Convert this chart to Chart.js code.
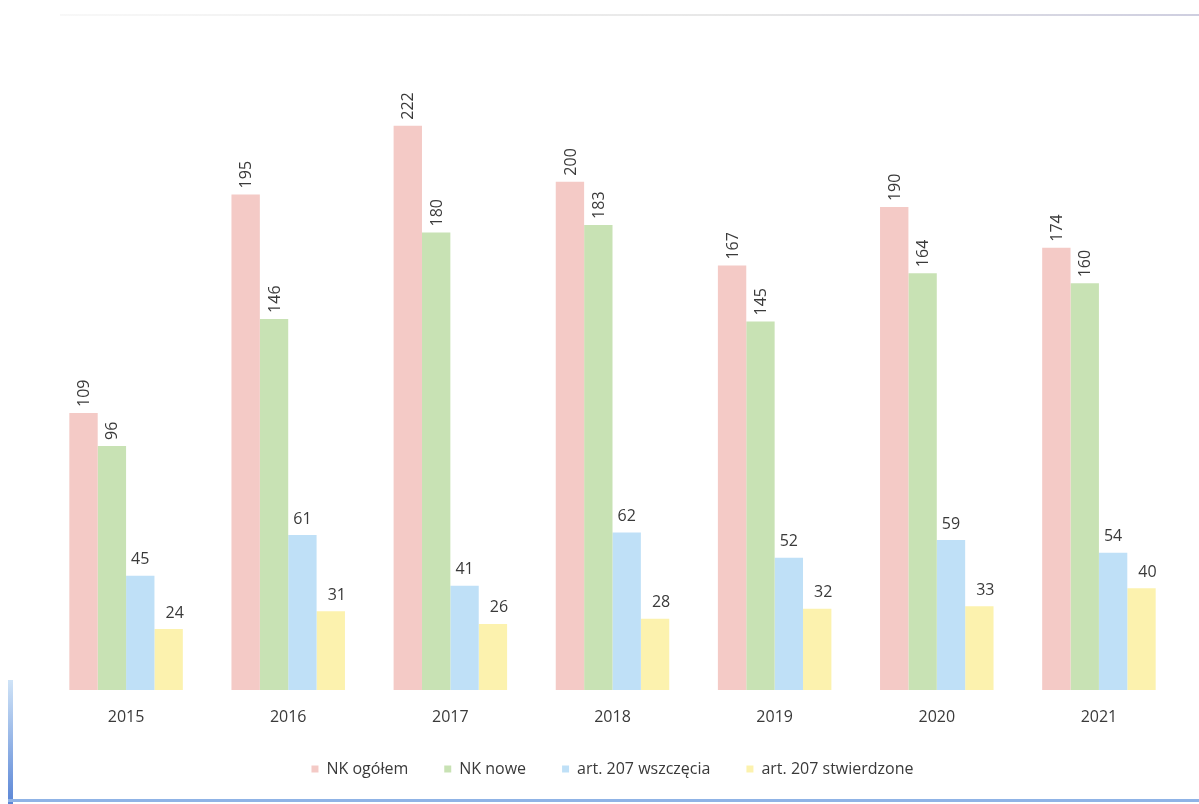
<!DOCTYPE html>
<html>
<head>
<meta charset="utf-8">
<script src="https://cdn.jsdelivr.net/npm/chart.js@4.4.1/dist/chart.umd.min.js"></script>
<style>
  html, body { margin: 0; padding: 0; background: #ffffff; }
  #wrap { position: absolute; left: 0; top: 0; width: 1199px; height: 804px; }
  #leftLine { position: absolute; left: 8px; top: 680px; width: 5px; height: 124px; background: linear-gradient(#cfe3f7, #5b86d6); }
  #bottomLine { position: absolute; left: 8px; top: 799px; width: 1191px; height: 3px; background: #8fb3e6; }
  #topNoise { position: absolute; left: 60px; top: 14px; width: 1139px; height: 2px; background: linear-gradient(90deg, #f4f4f4, #dcdcdc 60%, #b9b9d2); opacity: 0.7; }
</style>
</head>
<body>
<div id="wrap"><canvas id="c" width="1199" height="804"></canvas></div>
<div id="topNoise"></div>
<div id="leftLine"></div>
<div id="bottomLine"></div>
<script>
const categories = ["2015", "2016", "2017", "2018", "2019", "2020", "2021"];
const seriesNames = ["NK ogółem", "NK nowe", "art. 207 wszczęcia", "art. 207 stwierdzone"];
const nkOgolem = [109, 195, 222, 200, 167, 190, 174];
const nkNowe = [96, 146, 180, 183, 145, 164, 160];
const art207Wszczecia = [45, 61, 41, 62, 52, 59, 54];
const art207Stwierdzone = [24, 31, 26, 28, 32, 33, 40];

const colors = ["#f4cac6", "#c8e2b4", "#bfe0f7", "#fcf2ae"];
const FONT = "'Open Sans', 'Liberation Sans', sans-serif";

const valueLabels = {
  id: "valueLabels",
  afterDatasetsDraw(chart) {
    const ctx = chart.ctx;
    chart.data.datasets.forEach((ds, i) => {
      const meta = chart.getDatasetMeta(i);
      meta.data.forEach((bar, j) => {
        const v = ds.data[j];
        ctx.save();
        ctx.fillStyle = "#3a3a3a";
        ctx.font = "16px " + FONT;
        if (i < 2) {
          ctx.translate(bar.x + 1, bar.y - 6);
          ctx.rotate(-Math.PI / 2);
          ctx.textAlign = "left";
          ctx.textBaseline = "middle";
          ctx.fillText(String(v), 0, 0);
        } else {
          ctx.textAlign = "center";
          ctx.textBaseline = "bottom";
          ctx.fillText(String(v), bar.x + (i === 3 ? 6 : 0), bar.y - 8);
        }
        ctx.restore();
      });
    });
  }
};

new Chart(document.getElementById("c"), {
  type: "bar",
  data: {
    labels: categories,
    datasets: [
      { label: seriesNames[0], data: nkOgolem, backgroundColor: colors[0] },
      { label: seriesNames[1], data: nkNowe, backgroundColor: colors[1] },
      { label: seriesNames[2], data: art207Wszczecia, backgroundColor: colors[2] },
      { label: seriesNames[3], data: art207Stwierdzone, backgroundColor: colors[3] }
    ]
  },
  options: {
    responsive: false,
    animation: false,
    devicePixelRatio: 1,
    layout: { padding: { left: 45, right: 19, top: 80, bottom: 17 } },
    datasets: { bar: { categoryPercentage: 0.7, barPercentage: 1.0 } },
    scales: {
      x: {
        grid: { display: false, drawTicks: false },
        border: { display: false },
        ticks: { color: "#3a3a3a", font: { family: FONT, size: 16 }, padding: 18 },
        afterFit(scale) { scale.height = 35; }
      },
      y: {
        display: false,
        min: 0,
        max: 240
      }
    },
    plugins: {
      legend: {
        position: "bottom",
        labels: {
          color: "#3a3a3a",
          font: { family: FONT, size: 16 },
          boxWidth: 7,
          boxHeight: 7,
          padding: 36
        }
      },
      tooltip: { enabled: false }
    }
  },
  plugins: [valueLabels]
});
</script>
</body>
</html>
